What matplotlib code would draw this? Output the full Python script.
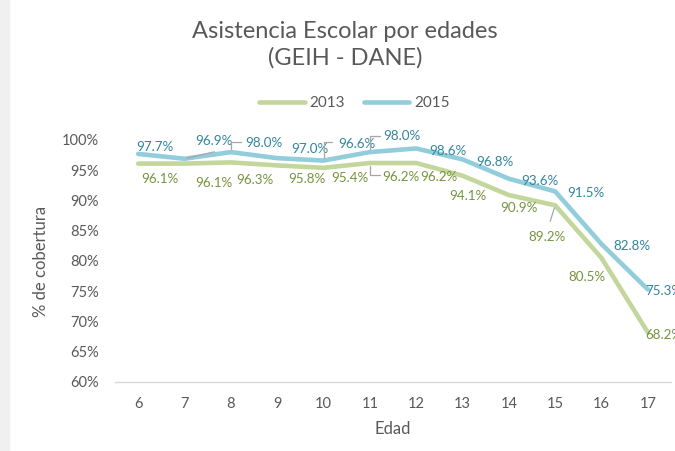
import matplotlib.pyplot as plt
from matplotlib.patches import Rectangle

# Data
edades = [6, 7, 8, 9, 10, 11, 12, 13, 14, 15, 16, 17]
asis_2013 = [96.1, 96.1, 96.3, 95.8, 95.4, 96.2, 96.2, 94.1, 90.9, 89.2, 80.5, 68.2]
asis_2015 = [97.7, 96.9, 98.0, 97.0, 96.6, 98.0, 98.6, 96.8, 93.6, 91.5, 82.8, 75.3]
yticks = [60, 65, 70, 75, 80, 85, 90, 95, 100]

# label offsets in pixels (dx, dy), Excel-style moved labels
off_2015 = [(17, 7), (29, 18), (33, 9), (33, 9), (33, 17), (32, 16),
            (32, -3), (32, -3), (31, -2), (31, -2), (30, -2), (16, -2)]
off_2013 = [(22, -15), (29, -19), (24, -18), (30, -14), (26, -10), (31, -14),
            (23, -14), (5, -20), (10, -13), (-8, -32), (-15, -19), (16, -3)]
# leader lines: (index, end offset in pixels, angled?)
lead_2015 = [(1, (30, 7), False), (2, (10, 10), True), (4, (8, 19), True), (5, (10, 16), True)]
lead_2013 = [(5, (10, -12), True), (9, (-5, -16), False)]

green, blue = '#C3D69B', '#92CDDC'
green_txt, blue_txt = '#77933C', '#31859C'
gray = '#595959'

plt.rcParams['font.family'] = ['Lato', 'DejaVu Sans']

fig = plt.figure(figsize=(6.75, 4.51), dpi=100)
fig.patches.append(Rectangle((0, 0), 9 / 675, 1, transform=fig.transFigure,
                             color='#F0F0F0', zorder=0))
ax = fig.add_axes([115 / 675, 1 - 382 / 451, 556 / 675, 242 / 451])

x = list(range(len(edades)))
ax.plot(x, asis_2013, color=green, lw=3.3, solid_capstyle='round', label='2013')
ax.plot(x, asis_2015, color=blue, lw=3.3, solid_capstyle='round', label='2015')

for i, v in enumerate(asis_2015):
    ax.annotate(f'{v:.1f}%', (i, v), xytext=off_2015[i], textcoords='offset pixels',
                ha='center', va='center', fontsize=9.6, color=blue_txt, annotation_clip=False)
for i, v in enumerate(asis_2013):
    ax.annotate(f'{v:.1f}%', (i, v), xytext=off_2013[i], textcoords='offset pixels',
                ha='center', va='center', fontsize=9.6, color=green_txt, annotation_clip=False)

for serie, leads in [(asis_2015, lead_2015), (asis_2013, lead_2013)]:
    for i, off, angled in leads:
        cs = 'angle,angleA=0,angleB=90,rad=0' if angled else 'arc3'
        ax.annotate('', (i, serie[i]), xytext=off, textcoords='offset pixels',
                    arrowprops=dict(arrowstyle='-', color='#A6A6A6', lw=0.9,
                                    shrinkA=0, shrinkB=2, connectionstyle=cs))

ax.set_xlim(-0.5, len(edades) - 0.5)
ax.set_ylim(60, 100)
ax.set_yticks(yticks)
ax.set_yticklabels([f'{t}%' for t in yticks])
ax.set_xticks(x)
ax.set_xticklabels([str(e) for e in edades])
ax.tick_params(length=0, labelsize=10.5, colors=gray)
ax.tick_params(axis='y', pad=11.5)
ax.tick_params(axis='x', pad=11)
for s in ['top', 'right', 'left']:
    ax.spines[s].set_visible(False)
ax.spines['bottom'].set_color('#D9D9D9')
ax.spines['bottom'].set_linewidth(1)

ax.set_xlabel('Edad', fontsize=12, color=gray, labelpad=7)
ax.set_ylabel('% de cobertura', fontsize=12, color=gray, labelpad=9)

fig.text(0.511, 1 - 45 / 451, 'Asistencia Escolar por edades\n(GEIH - DANE)',
         ha='center', va='center', fontsize=17, color=gray, linespacing=1.3)
fig.legend(loc='center', bbox_to_anchor=(0.525, 1 - 103 / 451), ncol=2, frameon=False,
           fontsize=11, handlelength=3.0, columnspacing=1.2, handletextpad=0.3,
           labelcolor=gray)

fig.savefig('out.png', dpi=100)
